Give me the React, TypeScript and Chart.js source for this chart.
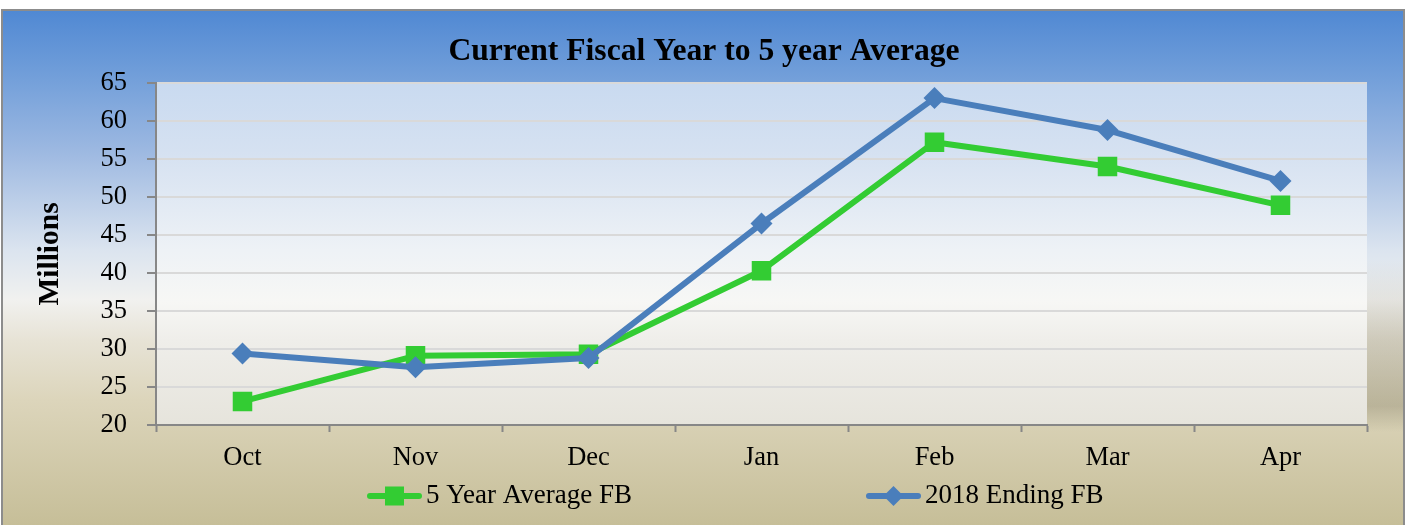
import React, { useEffect, useRef } from 'react';
import { Chart, registerables } from 'chart.js';

Chart.register(...registerables);

// ---- data ----
const categories = ['Oct', 'Nov', 'Dec', 'Jan', 'Feb', 'Mar', 'Apr'];
const fiveYearAverageFB = [23.1, 29.1, 29.3, 40.3, 57.2, 54.0, 48.9];
const ending2018FB = [29.4, 27.6, 28.8, 46.5, 63.0, 58.8, 52.1];
const seriesLabels = ['5 Year Average FB', '2018 Ending FB'];
const yTickMin = 20;
const yTickMax = 65;
const yTickStep = 5;
const chartTitle = 'Current Fiscal Year to 5 year Average';
const yAxisTitle = 'Millions';

// ---- style ----
const W = 1408;
const H = 525;
const FONT = '"Liberation Serif", "Times New Roman", serif';
const GREEN = '#33cc33';
const BLUE = '#4a7ebb';
const AXIS = '#878787';
const LEGEND_LEFT = 367;
const LEGEND_SLOT = 499;
const LEGEND_Y = 496;

const backgroundPlugin = {
  id: 'bgPlugin',
  beforeDraw(chart: any) {
    const { ctx, chartArea: a } = chart;
    ctx.save();
    const g = ctx.createLinearGradient(0, 9, 0, 525);
    g.addColorStop(0, '#4f88d3');
    g.addColorStop(0.138, '#74a0da');
    g.addColorStop(0.273, '#9cb8e1');
    g.addColorStop(0.467, '#dbe4ef');
    g.addColorStop(0.564, '#f1f1ef');
    g.addColorStop(0.641, '#e7e3d6');
    g.addColorStop(0.758, '#dcd5bb');
    g.addColorStop(1, '#c6be98');
    ctx.fillStyle = g;
    ctx.fillRect(2, 10, 1402, 530);

    // right-side shadow
    const sg = ctx.createLinearGradient(0, 260, 0, 432);
    sg.addColorStop(0, 'rgba(110,105,80,0)');
    sg.addColorStop(0.45, 'rgba(110,105,80,0.2)');
    sg.addColorStop(0.85, 'rgba(110,105,80,0.3)');
    sg.addColorStop(1, 'rgba(110,105,80,0)');
    ctx.fillStyle = sg;
    ctx.fillRect(a.right, 260, 1403 - a.right, 172);

    const pg = ctx.createLinearGradient(0, a.top, 0, a.bottom);
    pg.addColorStop(0, '#c9daf0');
    pg.addColorStop(0.2, '#d5e1f1');
    pg.addColorStop(0.49, '#eef2f6');
    pg.addColorStop(0.64, '#f7f7f5');
    pg.addColorStop(0.75, '#efeeea');
    pg.addColorStop(1, '#e6e4dc');
    ctx.fillStyle = pg;
    ctx.fillRect(a.left, a.top, a.right - a.left, a.bottom - a.top);

    ctx.strokeStyle = '#8c8c8c';
    ctx.lineWidth = 2;
    ctx.strokeRect(2, 10, 1402, 530);
    ctx.restore();
  },
};

const legendPlugin = {
  id: 'lineLegend',
  afterDraw(chart: any) {
    const ctx = chart.ctx;
    const y = LEGEND_Y;
    chart.data.datasets.forEach((ds: any, i: number) => {
      const x0 = LEGEND_LEFT + i * LEGEND_SLOT;
      const cx = x0 + 27.5;
      ctx.save();
      ctx.strokeStyle = ds.borderColor;
      ctx.lineWidth = 6;
      ctx.lineCap = 'round';
      ctx.beginPath();
      ctx.moveTo(x0 + 3, y);
      ctx.lineTo(x0 + 52, y);
      ctx.stroke();
      ctx.fillStyle = ds.borderColor;
      if (ds.pointStyle === 'rect') {
        ctx.fillRect(cx - 9.5, y - 9.5, 19, 19);
      } else {
        ctx.beginPath();
        ctx.moveTo(cx, y - 10);
        ctx.lineTo(cx + 10, y);
        ctx.lineTo(cx, y + 10);
        ctx.lineTo(cx - 10, y);
        ctx.closePath();
        ctx.fill();
      }
      ctx.fillStyle = '#000';
      ctx.font = `27px ${FONT}`;
      ctx.textBaseline = 'middle';
      ctx.textAlign = 'left';
      ctx.fillText(ds.label, x0 + 59, y);
      ctx.restore();
    });
  },
};

export default function App() {
  const ref = useRef<HTMLCanvasElement | null>(null);

  useEffect(() => {
    document.body.style.margin = '0';
    const canvas = ref.current;
    if (!canvas) return;
    const chart = new Chart(canvas, {
      type: 'line',
      data: {
        labels: categories,
        datasets: [
          {
            label: seriesLabels[0],
            data: fiveYearAverageFB,
            borderColor: GREEN,
            backgroundColor: GREEN,
            borderWidth: 6,
            borderJoinStyle: 'round',
            pointStyle: 'rect',
            pointRadius: 13.8,
            pointBorderWidth: 0,
            pointBackgroundColor: GREEN,
            tension: 0,
            order: 2,
            yAxisID: 'y',
          } as any,
          {
            label: seriesLabels[1],
            data: ending2018FB,
            borderColor: BLUE,
            backgroundColor: BLUE,
            borderWidth: 6,
            borderJoinStyle: 'round',
            pointStyle: 'rectRot',
            pointRadius: 11,
            pointBorderWidth: 0,
            pointBackgroundColor: BLUE,
            tension: 0,
            order: 1,
            yAxisID: 'y',
          } as any,
        ],
      },
      options: {
        responsive: false,
        animation: false,
        events: [],
        layout: { padding: 0 },
        plugins: {
          legend: { display: false },
          tooltip: { enabled: false },
          title: {
            display: true,
            text: chartTitle,
            color: '#000',
            font: { family: FONT, size: 31.6, weight: 'bold' },
            padding: { top: 33, bottom: 12 },
          },
        },
        scales: {
          x: {
            offset: true,
            grid: {
              display: true,
              drawOnChartArea: false,
              offset: true,
              tickLength: 7,
              tickColor: AXIS,
              tickWidth: 2,
            },
            border: { color: AXIS, width: 2 },
            ticks: { color: '#000', font: { family: FONT, size: 26.5 }, padding: 10 },
            afterFit: (s: any) => {
              s.height = 100;
            },
          },
          y: {
            min: yTickMin,
            max: yTickMax,
            ticks: {
              stepSize: yTickStep,
              color: '#000',
              font: { family: FONT, size: 26.5 },
              padding: 20,
            },
            grid: {
              color: '#d9d9d9',
              lineWidth: 2,
              tickLength: 9,
              tickColor: AXIS,
              tickWidth: 2,
            },
            border: { color: AXIS, width: 2 },
            title: {
              display: true,
              text: yAxisTitle,
              color: '#000',
              font: { family: FONT, size: 29.5, weight: 'bold' },
              padding: { top: 33, bottom: 0 },
            },
            afterFit: (s: any) => {
              s.width = 156;
            },
          },
          yRight: {
            position: 'right',
            display: true,
            grid: { display: false, drawTicks: false },
            border: { display: false },
            ticks: { display: false },
            afterFit: (s: any) => {
              s.width = 41;
            },
          },
        },
      } as any,
      plugins: [backgroundPlugin, legendPlugin],
    });
    return () => chart.destroy();
  }, []);

  return (
    <div style={{ position: 'absolute', left: 0, top: 0, width: W, height: H }}>
      <canvas ref={ref} width={W} height={H} style={{ display: 'block' }} />
    </div>
  );
}
